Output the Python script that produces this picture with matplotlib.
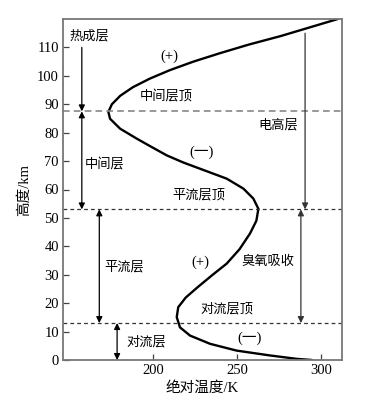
import matplotlib
matplotlib.use('Agg')
import matplotlib.pyplot as plt

plt.rcParams['font.family'] = ['Liberation Serif', 'Noto Sans CJK SC']
plt.rcParams['axes.unicode_minus'] = False

# temperature profile (K, km)
temp = [294.6, 285.5, 269.6, 249.8, 233.9, 222, 216, 214.1, 215, 219.5, 226.5, 235.5, 243.8,
        251.5, 257.7, 261.5, 262.7, 259.7, 253.8, 243.9, 228, 218, 208.2, 199, 190.3, 180.4, 174.4,
        173.4, 175.5, 180.5, 188, 198, 210, 224, 240, 257, 276, 293, 310]
alt = [0, 0.4, 1.6, 3.3, 5.7, 8.6, 11.5, 15.1, 18.6, 22, 25.6, 30, 33.9,
       39, 44.5, 49, 53.2, 56.8, 60.3, 63.8, 67.3, 69.5, 72, 75, 77.9, 81.4, 84.9,
       87.3, 90, 93, 96, 99, 102, 105, 108, 111, 114, 117, 120]

# layer boundaries (km)
tropopause = 13
stratopause = 53
mesopause = 87.5

xticks = [200, 250, 300]
yticks = [0, 10, 20, 30, 40, 50, 60, 70, 80, 90, 100, 110]

fig = plt.figure(figsize=(3.67, 4.0), dpi=100)
ax = fig.add_axes([0.1717, 0.10, 0.7603, 0.8525])

ax.plot(temp, alt, color='black', lw=1.7, solid_capstyle='round', solid_joinstyle='round')

ax.axhline(mesopause, color='#888888', ls='--', lw=1.2, dashes=(4, 2.5))
ax.axhline(stratopause, color='#333333', ls='--', lw=0.9, dashes=(3, 2.5))
ax.axhline(tropopause, color='#333333', ls='--', lw=0.9, dashes=(3, 2.5))

def arrow(x, y0, y1, style, color='black'):
    ax.annotate('', xy=(x, y1), xytext=(x, y0),
                arrowprops=dict(arrowstyle=style, color=color, lw=0.9,
                                mutation_scale=9, shrinkA=0, shrinkB=0))

arrow(157.6, 110, mesopause, '-|>')
arrow(157.6, stratopause, mesopause, '<|-|>')
arrow(168, tropopause, stratopause, '<|-|>')
arrow(178.6, 0, tropopause, '<|-|>')
arrow(290.5, 115, stratopause, '-|>', color='#333333')
arrow(288, tropopause, stratopause, '<|-|>', color='#333333')

fs = 9.5
fp = 10.5
ax.text(162, 114, '热成层', fontsize=fs, ha='center', va='center')
ax.text(210, 107, '(+)', fontsize=fp, ha='center', va='center')
ax.text(208, 92.5, '中间层顶', fontsize=fs, ha='center', va='center')
ax.text(274.4, 82.5, '电高层', fontsize=fs, ha='center', va='center')
ax.text(229, 73.2, '(一)', fontsize=fp, ha='center', va='center')
ax.text(171.4, 68.5, '中间层', fontsize=fs, ha='center', va='center')
ax.text(227, 57.9, '平流层顶', fontsize=fs, ha='center', va='center')
ax.text(182.7, 32.5, '平流层', fontsize=fs, ha='center', va='center')
ax.text(228.4, 34.4, '(+)', fontsize=fp, ha='center', va='center')
ax.text(268.6, 34.4, '臭氧吸收', fontsize=fs, ha='center', va='center')
ax.text(243.8, 18, '对流层顶', fontsize=fs, ha='center', va='center')
ax.text(257.3, 7.8, '(一)', fontsize=fp, ha='center', va='center')
ax.text(195.7, 6.3, '对流层', fontsize=fs, ha='center', va='center')

ax.set_xlim(146.4, 312.5)
ax.set_ylim(0, 120)
ax.set_xticks(xticks)
ax.set_yticks(yticks)
ax.tick_params(direction='in', length=4, width=0.9, labelsize=10.5, pad=3, color='#444444')
for s in ax.spines.values():
    s.set_color('#777777')
    s.set_linewidth(1.3)

ax.set_xlabel('绝对温度/K', fontsize=10.5, labelpad=3)
ax.set_ylabel('高度/km', fontsize=10.5, labelpad=4)

fig.savefig('out.png', dpi=100)
